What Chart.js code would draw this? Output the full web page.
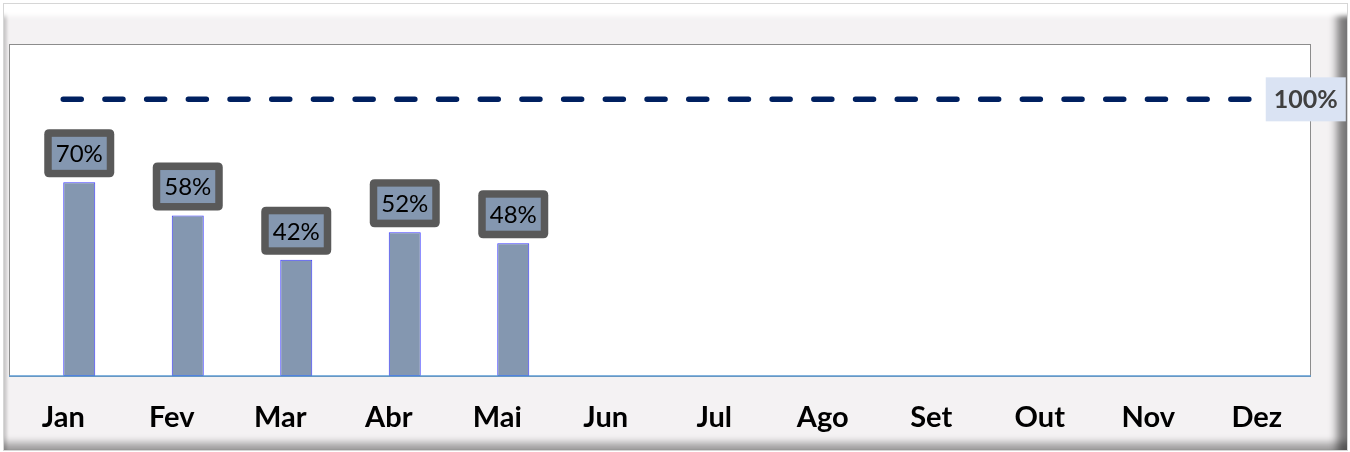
<!DOCTYPE html>
<html lang="pt">
<head>
<meta charset="utf-8">
<title>Realizado x Meta</title>
<script src="https://cdn.jsdelivr.net/npm/chart.js@4"></script>
<style>
    html, body {
        margin: 0;
        padding: 0;
        background: #ffffff;
    }
    #wrap {
        position: relative;
        width: 1350px;
        height: 452px;
    }
    /* bevelled panel behind the chart */
    .frame {
        position: absolute;
        left: 3px;
        top: 3px;
        width: 1345px;
        height: 448px;
        box-sizing: border-box;
        background: #f4f2f3;
        border: 1px solid #d6d6d6;
        box-shadow:
            inset 0 18px 5px -6px #ffffff,
            inset 4px 0 3px -1px rgba(0, 0, 0, 0.15),
            inset -14px 0 8px -4px rgba(0, 0, 0, 0.5),
            inset 0 -12px 7px -4px rgba(0, 0, 0, 0.3);
    }
    #chart {
        position: absolute;
        left: 0;
        top: 0;
    }
</style>
</head>
<body>
<div id="wrap">
    <div class="frame"></div>
    <canvas id="chart" width="1350" height="452"></canvas>
</div>
<script>
const meses = ['Jan', 'Fev', 'Mar', 'Abr', 'Mai', 'Jun', 'Jul', 'Ago', 'Set', 'Out', 'Nov', 'Dez'];
const realizado = [70, 58, 42, 52, 48, null, null, null, null, null, null, null];
const meta = [100, 100, 100, 100, 100, 100, 100, 100, 100, 100, 100, 100];
const vazio = [null, null, null, null, null, null, null, null, null, null, null, null];

const corBarra = '#8497b0';

Chart.defaults.font.family = 'Lato';

function roundRect(ctx, x, y, w, h, r) {
    ctx.beginPath();
    ctx.moveTo(x + r, y);
    ctx.lineTo(x + w - r, y);
    ctx.quadraticCurveTo(x + w, y, x + w, y + r);
    ctx.lineTo(x + w, y + h - r);
    ctx.quadraticCurveTo(x + w, y + h, x + w - r, y + h);
    ctx.lineTo(x + r, y + h);
    ctx.quadraticCurveTo(x, y + h, x, y + h - r);
    ctx.lineTo(x, y + r);
    ctx.quadraticCurveTo(x, y, x + r, y);
    ctx.closePath();
}

// white plot area with grey outline and blue base line
const areaPlot = {
    id: 'areaPlot',
    beforeDatasetsDraw(chart) {
        const { ctx, chartArea: a } = chart;
        ctx.save();
        ctx.fillStyle = '#ffffff';
        ctx.fillRect(a.left, a.top, a.right - a.left, a.bottom - a.top);
        ctx.strokeStyle = '#8c8c8c';
        ctx.lineWidth = 1;
        ctx.strokeRect(a.left + 0.5, a.top + 0.5, a.right - a.left - 1, a.bottom - a.top);
        ctx.restore();
    },
    afterDatasetsDraw(chart) {
        const { ctx, chartArea: a } = chart;
        ctx.save();
        ctx.strokeStyle = '#5b9bd5';
        ctx.lineWidth = 1.5;
        ctx.beginPath();
        ctx.moveTo(a.left, a.bottom);
        ctx.lineTo(a.right, a.bottom);
        ctx.stroke();
        ctx.restore();
    }
};

// value boxes above the bars and the tag at the end of the target line
const rotulos = {
    id: 'rotulos',
    afterDraw(chart) {
        const ctx = chart.ctx;
        ctx.save();

        const barras = chart.getDatasetMeta(1);
        barras.data.forEach((bar, i) => {
            const v = realizado[i];
            if (v === null) return;
            const w = 70, h = 48, b = 7.5;
            const x = bar.x - w / 2;
            const y = bar.y - 5 - h;
            ctx.fillStyle = '#595959';
            roundRect(ctx, x, y, w, h, 5);
            ctx.fill();
            ctx.fillStyle = corBarra;
            ctx.fillRect(x + b, y + b, w - 2 * b, h - 2 * b);
            ctx.fillStyle = '#000000';
            ctx.font = '24px Lato';
            ctx.textAlign = 'center';
            ctx.textBaseline = 'middle';
            ctx.fillText(v + '%', bar.x, y + h / 2 + 1);
        });

        const linha = chart.getDatasetMeta(2);
        const ult = linha.data[linha.data.length - 1];
        const valor = meta[meta.length - 1];
        const bx = ult.x + 9, bh = 44;
        ctx.fillStyle = '#dae3f3';
        ctx.fillRect(bx, ult.y - bh / 2, 80, bh);
        ctx.fillStyle = '#404040';
        ctx.font = 'bold 25px Lato';
        ctx.textAlign = 'left';
        ctx.textBaseline = 'middle';
        ctx.fillText(valor + '%', bx + 8, ult.y + 1);

        ctx.restore();
    }
};

function desenhar() {
    const ctx = document.getElementById('chart').getContext('2d');
    new Chart(ctx, {
        type: 'bar',
        data: {
            labels: meses,
            datasets: [
                {
                    label: '',
                    data: vazio,
                    backgroundColor: 'rgba(0,0,0,0)',
                    categoryPercentage: 0.59,
                    barPercentage: 1
                },
                {
                    label: 'Realizado',
                    data: realizado,
                    backgroundColor: corBarra,
                    borderColor: '#3a3aff',
                    borderWidth: 1,
                    borderSkipped: false,
                    categoryPercentage: 0.59,
                    barPercentage: 1
                },
                {
                    type: 'line',
                    label: 'Meta',
                    data: meta,
                    borderColor: '#002060',
                    borderWidth: 5.5,
                    borderDash: [18, 23.7],
                    borderCapStyle: 'round',
                    pointRadius: 0,
                    fill: false
                }
            ]
        },
        options: {
            responsive: false,
            animation: false,
            layout: {
                padding: { left: 9, right: 39, top: 44, bottom: 20 }
            },
            plugins: {
                legend: { display: false },
                tooltip: { enabled: false }
            },
            scales: {
                x: {
                    grid: { display: false, drawTicks: false },
                    border: { display: false },
                    ticks: {
                        color: '#000000',
                        font: { size: 29, weight: 'bold' },
                        padding: 24,
                        maxRotation: 0,
                        autoSkip: false
                    },
                    afterFit: (scale) => { scale.height = 56; }
                },
                y: {
                    display: false,
                    min: 0,
                    max: 120
                }
            }
        },
        plugins: [areaPlot, rotulos]
    });
}

Promise.all([
    document.fonts.load('bold 29px Lato'),
    document.fonts.load('24px Lato')
]).then(desenhar, desenhar);
</script>
</body>
</html>
